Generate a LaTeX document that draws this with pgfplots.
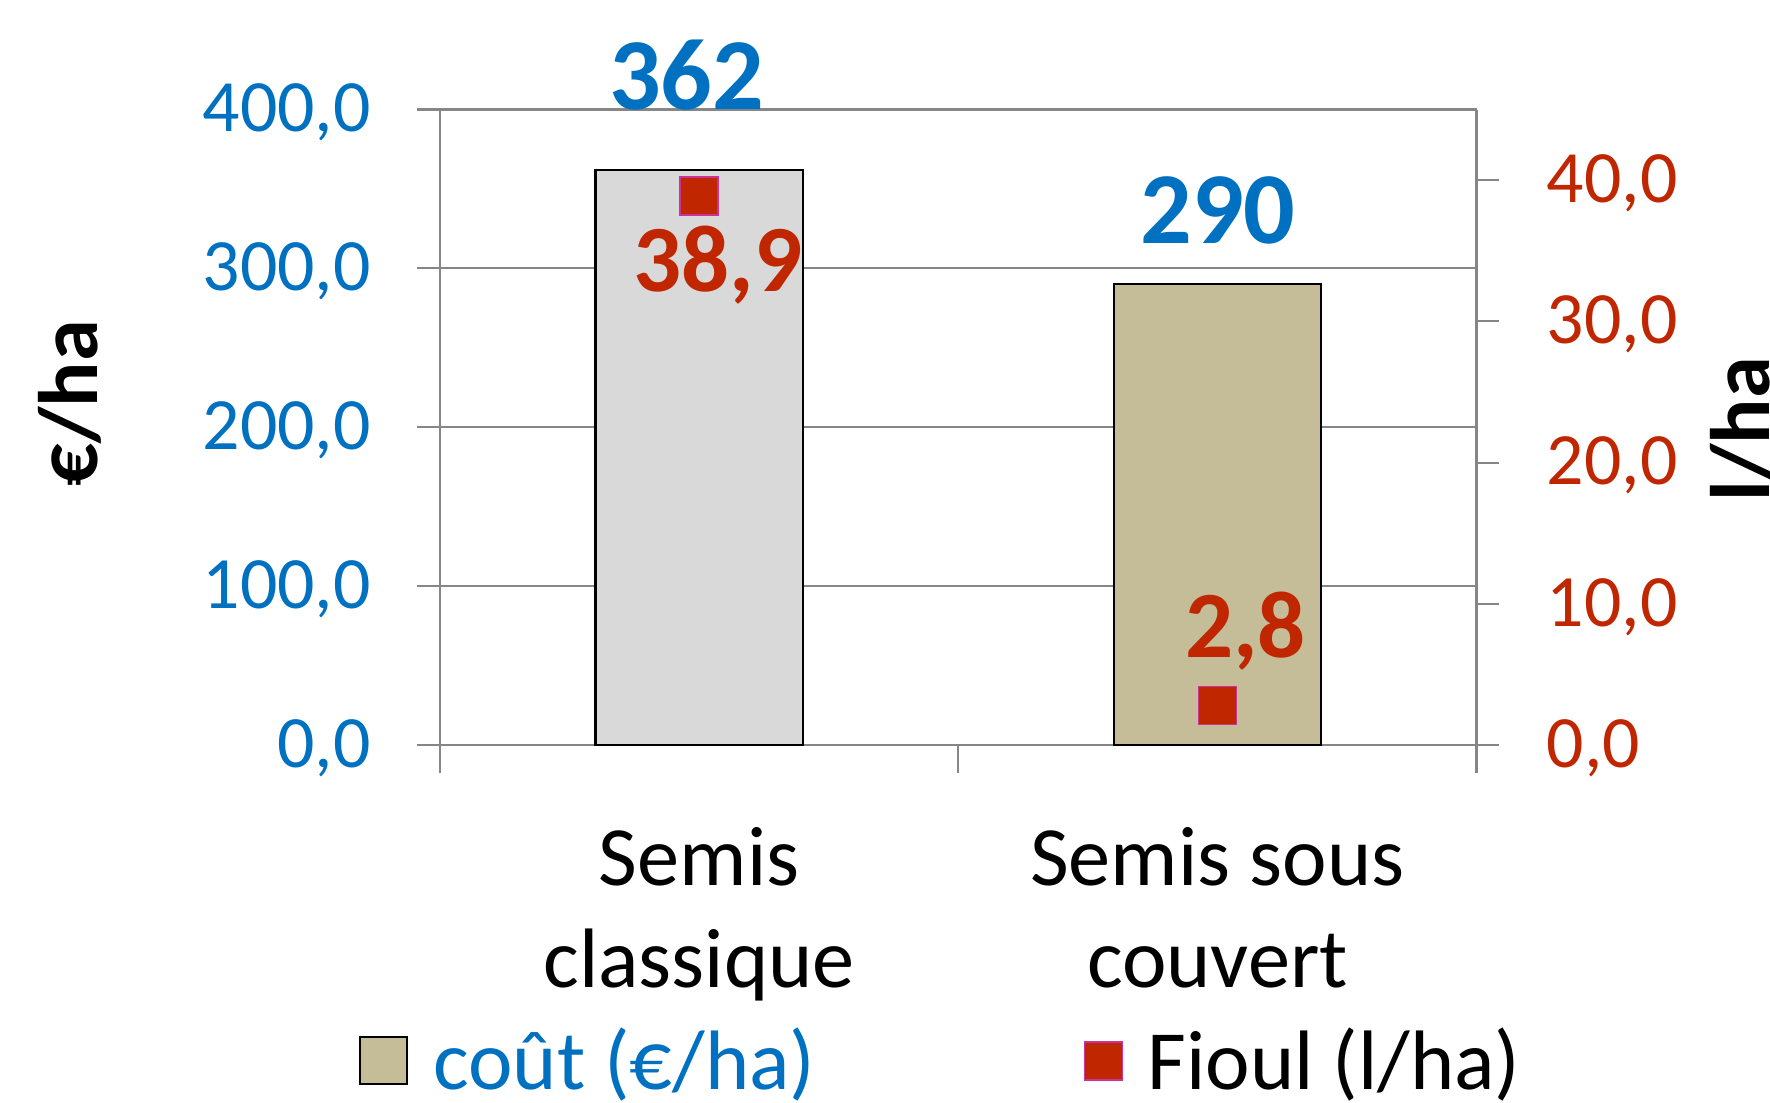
\documentclass[border=0pt]{standalone}
\usepackage{pgfplots}
\pgfplotsset{compat=1.18}
\usepackage{fontspec}
\setmainfont{Carlito}
\definecolor{cblue}{RGB}{0,112,192}
\definecolor{cred}{RGB}{192,38,0}
\definecolor{cpink}{RGB}{204,51,153}
\definecolor{bgray}{RGB}{217,217,217}
\definecolor{btan}{RGB}{196,189,151}
\definecolor{lgray}{RGB}{134,134,134}
\pgfplotsset{
  fuelleg/.style={legend image code/.code={\draw[##1] plot coordinates {(1.9mm,0mm)};}},
  costleg/.style={legend image code/.code={\draw[fill=btan, draw=black, line width=0.6pt] (0mm,-2.35mm) rectangle (4.7mm,2.35mm);}},
}
\begin{document}
\begin{tikzpicture}
\begin{axis}[
  scale only axis, width=103.65mm, height=63.55mm,
  xmin=-0.5, xmax=1.5, ymin=0, ymax=400,
  clip=false,
  axis x line*=bottom, axis y line*=left,
  axis line style={draw=lgray, line width=0.6pt},
  ytick={0,100,...,400},
  ymajorgrids, grid style={draw=lgray, line width=0.6pt},
  tick align=outside, major tick length=2.26mm, minor tick length=2.8mm,
  tick style={draw=lgray, line width=0.6pt},
  xtick={0,1}, xticklabels={{Semis\\classique},{Semis sous\\couvert}},
  major x tick style={draw=none},
  minor xtick={-0.5,0.5,1.5},
  scaled y ticks=false,
  /pgf/number format/fixed, /pgf/number format/fixed zerofill,
  /pgf/number format/precision=1, /pgf/number format/use comma,
  /pgf/number format/1000 sep={}, /pgf/number format/assume math mode=true,
  yticklabel style={font=\fontsize{21}{25}\selectfont, text=cblue, anchor=east, inner sep=0pt, xshift=-4.6mm, yshift=-0.3mm},
  xticklabel style={font=\fontsize{24}{29}\selectfont, align=center, anchor=north, inner sep=0pt, yshift=-5.9mm},
  ylabel={\textbf{€/ha}},
  ylabel style={at={(rel axis cs:-0.357,0.538)}, anchor=center, font=\fontsize{24}{29}\selectfont},
]
\addplot[ybar, bar width=0.4, bar shift=0pt, fill=bgray, draw=black, line width=0.6pt] coordinates {(0,362)};
\addplot[ybar, bar width=0.4, bar shift=0pt, fill=btan, draw=black, line width=0.6pt] coordinates {(1,290)};
\node[font=\fontsize{29}{35}\selectfont\bfseries, text=cblue, anchor=base, inner sep=0pt] at (axis cs:-0.024,400) {362};
\node[font=\fontsize{29}{35}\selectfont\bfseries, text=cblue, anchor=base, inner sep=0pt] at (axis cs:1.001,315.5) {290};
\end{axis}
\begin{axis}[
  scale only axis, width=103.65mm, height=63.55mm,
  xmin=-0.5, xmax=1.5, ymin=0, ymax=45,
  clip=false,
  axis x line=none, axis y line*=right,
  axis line style={draw=lgray, line width=0.6pt},
  ytick={0,10,...,40},
  tick align=outside, major tick length=2.26mm,
  tick style={draw=lgray, line width=0.6pt},
  scaled y ticks=false,
  /pgf/number format/fixed, /pgf/number format/fixed zerofill,
  /pgf/number format/precision=1, /pgf/number format/use comma,
  /pgf/number format/1000 sep={}, /pgf/number format/assume math mode=true,
  yticklabel style={font=\fontsize{21}{25}\selectfont, text=cred, anchor=west, inner sep=0pt, xshift=4.7mm, yshift=-0.3mm},
  ylabel={\textbf{l/ha}},
  ylabel style={at={(rel axis cs:1.256,0.497)}, anchor=center, font=\fontsize{24}{29}\selectfont},
  legend columns=2,
  legend style={draw=none, fill=none, inner sep=0pt, outer sep=0pt,
    font=\fontsize{24}{29}\selectfont,
    at={(rel axis cs:-0.078,-0.497)}, anchor=west,
    nodes={inner sep=0pt},
    /tikz/every odd column/.append style={column sep=2.5mm},
    /tikz/every even column/.append style={column sep=26.9mm}},
  legend cell align=left,
]
\addlegendimage{costleg}
\addlegendentry{\textcolor{cblue}{coût (€/ha)}}
\addplot[only marks, mark=square*, mark size=1.9mm, mark options={fill=cred, draw=cpink, line width=0.5pt}, fuelleg] coordinates {(0,38.9) (1,2.8)};
\addlegendentry{Fioul (l/ha)}
\node[font=\fontsize{27}{32}\selectfont\bfseries, text=cred, anchor=base, inner sep=0pt] at (axis cs:0.036,32.13) {38,9};
\node[font=\fontsize{27}{32}\selectfont\bfseries, text=cred, anchor=base, inner sep=0pt] at (axis cs:1.054,6.17) {2,8};
\end{axis}
\pgfresetboundingbox
\path (-44mm,-35.7mm) rectangle (133mm,74.5mm);
\end{tikzpicture}
\end{document}
